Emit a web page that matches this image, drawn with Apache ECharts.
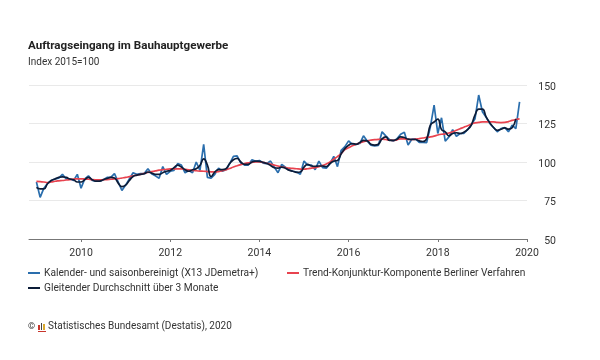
<!DOCTYPE html>
<html>
<head>
<meta charset="utf-8">
<style>html,body{margin:0;background:#fff}#chart{width:600px;height:360px}</style>
<script src="https://cdn.jsdelivr.net/npm/echarts@6/dist/echarts.min.js"></script>
</head>
<body>
<div id="chart"></div>
<script>
// Monate Nov 2008 bis Jan 2020 (Kategorieachse)
const months = ["2008-11", "2008-12"];
for (let y = 2009; y <= 2019; y++) {
	for (let m = 1; m <= 12; m++) months.push(y + "-" + String(m).padStart(2, "0"));
}
months.push("2020-01");

const yTicks = [50, 75, 100, 125, 150];

const nameBlue = "Kalender- und saisonbereinigt (X13 JDemetra+)";
const nameRed = "Trend-Konjunktur-Komponente Berliner Verfahren";
const nameBlack = "Gleitender Durchschnitt über 3 Monate";

const blue = [
	87, 77, 83, 86, 88, 89, 89.5, 92, 89, 89, 88, 92,
	83, 89, 91, 88, 87.6, 87.6, 88.5, 90, 90, 92.5, 87, 81.5,
	85, 89, 93, 92, 92.5, 92.5, 95.6, 92.4, 91, 89.5, 97, 92,
	94, 94.5, 99, 98, 93, 94.5, 93, 100, 94.5, 111.5, 90, 89.5,
	92, 96, 94, 95, 99, 103.7, 104, 99.3, 98, 98, 101.5, 100.4,
	101, 99.3, 99, 100.6, 96.7, 93, 98.5, 96.7, 95, 94, 93.5, 92,
	100.6, 98, 98, 95, 100.6, 96.3, 96, 99, 103.7, 97, 107.6, 110,
	113.7, 111.5, 111.5, 112, 117, 113.7, 111, 110.5, 110.7, 119.6, 117, 114.5,
	113.7, 115, 118, 119.3, 111, 114.8, 115, 112.8, 112.8, 112.6, 122.8, 137,
	118.5, 128.7, 113.5, 116.3, 121, 116.7, 118.5, 118.5, 121, 124, 128, 143.5,
	132.6, 129, 125, 122.4, 119.6, 121.7, 122.4, 119.6, 124, 121.7, 139
];

const black = [
	83.5, 82.5, 82.5, 86, 88, 89, 90, 90.4, 90, 89, 88.5, 87,
	87, 88.5, 90, 88.5, 87.6, 87.6, 88.5, 89.3, 90, 89.6, 86.3, 84,
	85, 88, 90.6, 91.5, 92, 92.4, 93.5, 92.8, 92, 92, 93, 94,
	94.5, 96.3, 98, 96.7, 95, 94, 95, 95.6, 97.8, 102, 98, 90.6,
	93.5, 95, 95, 95.6, 99, 101.5, 102.4, 100, 98.5, 98.5, 100, 100.6,
	100.4, 99.8, 99, 97.8, 96.3, 96, 96.7, 96, 94.6, 94, 93.3, 93.5,
	96.7, 98.5, 97.4, 97.2, 97.4, 97.4, 97, 99, 100.6, 101, 105.4, 108.7,
	110.9, 112, 111.5, 112.6, 114, 113.7, 111.5, 110.9, 111.5, 115, 116.3, 114,
	114, 114.8, 116.3, 115.9, 114.8, 114.6, 114.6, 113.7, 113.3, 115, 124, 126,
	127.8, 121, 119.6, 117, 118.5, 119, 118.5, 119.3, 121, 124, 130.4, 134.3,
	134.3, 129.3, 125.4, 122.4, 120.6, 121.3, 122.2, 121.3, 122.2, 128
];

const red = [
	87.4, 87.2, 87, 86.7, 87, 87.5, 87.8, 88, 88.3, 88.6, 88.9, 89.1,
	89.1, 89, 88.8, 88.5, 88.4, 88.4, 88.5, 88.6, 88.8, 89, 89.2, 89.6,
	90, 90.5, 91, 91.5, 92, 92.6, 93.2, 93.7, 94.2, 94.7, 95, 95.3,
	95.5, 95.6, 95.6, 95.5, 95.2, 94.9, 94.6, 94.3, 94.1, 94, 93.8, 93.6,
	93.6, 93.8, 94.3, 95, 95.8, 96.8, 97.6, 98.3, 98.9, 99.4, 99.8, 100,
	100, 99.7, 99.2, 98.6, 98, 97.4, 96.9, 96.4, 96, 95.8, 95.6, 95.4,
	95.4, 95.6, 96, 96.4, 97, 97.8, 98.7, 100, 101.8, 103.5, 105.5, 108,
	109.3, 110.5, 111.5, 112.4, 113.2, 113.8, 114.2, 114.5, 114.7, 114.8, 114.6, 114.2,
	114, 114.4, 115, 115, 114.7, 114.6, 114.8, 115.2, 115.6, 116, 116.3, 116.8,
	117.5, 118, 118.3, 118.8, 119.6, 120.6, 121.6, 122.6, 123.5, 124.6, 125.4, 125.7,
	126, 126, 126, 126, 125.7, 125.6, 125.7, 126.2, 127, 127.6, 128
];

const fontName = "Roboto";
const textColor = "#333";

// Reihen beginnen erst im Jan 2009, also zwei Monate nach Achsenanfang
const toPairs = (arr) => arr.map((v, i) => [months[i + 2], v]);
const isEvenYearStart = (i, v) => v.endsWith("-01") && Number(v.slice(0, 4)) % 2 === 0;

const legendBase = {
	icon: "rect",
	itemWidth: 12,
	itemHeight: 2,
	itemGap: 0,
	padding: 0,
	textStyle: { fontFamily: fontName, fontSize: 10.2, color: textColor, padding: [0, 0, 0, -1] }
};

const myChart = echarts.init(document.getElementById("chart"), null, { renderer: "canvas" });

myChart.setOption({
	animation: false,
	backgroundColor: "#fff",
	textStyle: { fontFamily: fontName },
	title: [
		{
			text: "Auftragseingang im Bauhauptgewerbe",
			left: 28, top: 40, padding: 0,
			textStyle: { fontFamily: fontName, fontSize: 11.6, fontWeight: "bold", color: "#222" }
		},
		{
			text: "Index 2015=100",
			left: 28, top: 57, padding: 0,
			textStyle: { fontFamily: fontName, fontSize: 10, fontWeight: "normal", color: textColor }
		},
		{
			text: "©",
			left: 28, top: 322, padding: 0,
			textStyle: { fontFamily: fontName, fontSize: 9, fontWeight: "normal", color: textColor }
		},
		{
			text: "Statistisches Bundesamt (Destatis), 2020",
			left: 48, top: 321, padding: 0,
			textStyle: { fontFamily: fontName, fontSize: 10, fontWeight: "normal", color: textColor }
		}
	],
	legend: [
		{ ...legendBase, data: [nameBlue], left: 28, top: 268 },
		{ ...legendBase, data: [nameRed], left: 287, top: 268 },
		{ ...legendBase, data: [nameBlack], left: 28, top: 283 }
	],
	grid: { left: 29, right: 73, top: 85, bottom: 121 },
	xAxis: {
		type: "category",
		boundaryGap: false,
		data: months,
		axisLine: { lineStyle: { color: "#777", width: 1 } },
		axisTick: { interval: isEvenYearStart, length: 3, lineStyle: { color: "#777" } },
		axisLabel: {
			interval: isEvenYearStart,
			formatter: (v) => v.slice(0, 4),
			showMaxLabel: true,
			fontFamily: fontName,
			fontSize: 10.5,
			color: textColor,
			margin: 9
		},
		splitLine: { show: false }
	},
	yAxis: {
		type: "value",
		position: "right",
		min: yTicks[0],
		max: yTicks[yTicks.length - 1],
		interval: 25,
		axisLine: { show: false },
		axisTick: { show: false },
		axisLabel: {
			formatter: "{v|{value}}",
			align: "right",
			margin: 29,
			// Zahlen sitzen im Original etwas unter der Gitterlinie
			rich: { v: { fontFamily: fontName, fontSize: 10.5, color: textColor, padding: [4, 0, 0, 0] } }
		},
		splitLine: { lineStyle: { color: "#e9e9e9", width: 1 } }
	},
	series: [
		{
			name: nameBlue, type: "line", symbol: "none", smooth: false,
			data: toPairs(blue), lineStyle: { color: "#2a6ead", width: 1.7 }, itemStyle: { color: "#2a6ead" }
		},
		{
			name: nameRed, type: "line", symbol: "none", smooth: true,
			data: toPairs(red), lineStyle: { color: "#e8434f", width: 1.7 }, itemStyle: { color: "#e8434f" }
		},
		{
			name: nameBlack, type: "line", symbol: "none", smooth: true,
			data: toPairs(black), lineStyle: { color: "#0c1c38", width: 1.7 }, itemStyle: { color: "#0c1c38" }
		}
	],
	// kleines Destatis-Logo neben dem Copyright
	graphic: [
		{ type: "rect", left: 38, top: 325, shape: { width: 2, height: 5 }, style: { fill: "#c8352c" } },
		{ type: "rect", left: 41, top: 323, shape: { width: 1, height: 7 }, style: { fill: "#444" } },
		{ type: "rect", left: 43, top: 324, shape: { width: 2, height: 6 }, style: { fill: "#d9a92e" } },
		{ type: "rect", left: 38, top: 331, shape: { width: 8, height: 1 }, style: { fill: "#c8352c" } }
	]
});
</script>
</body>
</html>
